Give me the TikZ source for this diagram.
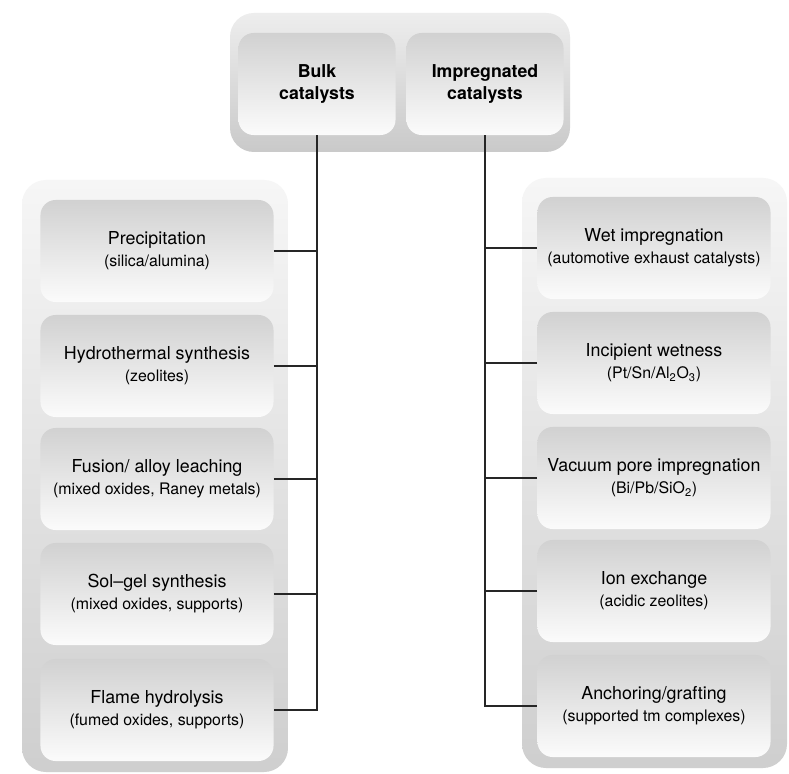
\documentclass[tikz,border=0pt]{standalone}
\usepackage{fontspec}
\setmainfont{TeX Gyre Heros}
\newcommand{\methodnote}[1]{{\fontsize{11.3}{15.6}\selectfont #1}}
\begin{document}
\begin{tikzpicture}[x=0.025cm,y=-0.025cm,
	panel/.style={rounded corners=0.6cm, top color=gray!7, bottom color=gray!38},
	toppanel/.style={rounded corners=0.6cm, top color=gray!14, bottom color=gray!42},
	method/.style={rounded corners=0.38cm, top color=gray!36, bottom color=gray!3,
		minimum width=5.825cm, minimum height=2.55cm, inner sep=0pt, align=center,
		font=\fontsize{12.7}{15.6}\selectfont},
	family/.style={method, minimum width=3.925cm, font=\fontsize{12.6}{15.6}\selectfont\bfseries},
	conn/.style={line width=1.7pt, black!85}]

		% page
		\fill[white] (0,0) rectangle (789,774);
		\useasboundingbox (0,0) rectangle (789,774);

		% background panels
		\shade[toppanel] (230,13) rectangle (570,152);
		\shade[panel] (22,180) rectangle (288,772);
		\shade[panel] (522,178) rectangle (787,768);

		% the two families
		\node[family] (bulk) at (317,84) {Bulk\\catalysts};
		\node[family] (impr) at (485,84) {Impregnated\\catalysts};

		% bulk methods
		\node[method] (prec) at (157,251) {Precipitation\\\methodnote{(silica/alumina)}};
		\node[method] (hydro) at (157,366) {Hydrothermal synthesis\\\methodnote{(zeolites)}};
		\node[method] (fusion) at (157,479) {Fusion/ alloy leaching\\\methodnote{(mixed oxides, Raney metals)}};
		\node[method] (solgel) at (157,594) {Sol--gel synthesis\\\methodnote{(mixed oxides, supports)}};
		\node[method] (flame) at (157,710) {Flame hydrolysis\\\methodnote{(fumed oxides, supports)}};

		% impregnation methods
		\node[method] (wet) at (654,248) {Wet impregnation\\\methodnote{(automotive exhaust catalysts)}};
		\node[method] (incip) at (654,363) {Incipient wetness\\\methodnote{(Pt/Sn/Al\textsubscript{2}O\textsubscript{3})}};
		\node[method] (vacuum) at (654,478) {Vacuum pore impregnation\\\methodnote{(Bi/Pb/SiO\textsubscript{2})}};
		\node[method] (ionex) at (654,591) {Ion exchange\\\methodnote{(acidic zeolites)}};
		\node[method] (anchor) at (654,706) {Anchoring/grafting\\\methodnote{(supported tm complexes)}};

		% left tree
		\draw[conn] (bulk.south) |- (flame.east);
		\draw[conn] (prec.east) -- (prec.east -| bulk.south);
		\draw[conn] (hydro.east) -- (hydro.east -| bulk.south);
		\draw[conn] (fusion.east) -- (fusion.east -| bulk.south);
		\draw[conn] (solgel.east) -- (solgel.east -| bulk.south);

		% right tree
		\draw[conn] (impr.south) |- (anchor.west);
		\draw[conn] (wet.west) -- (wet.west -| impr.south);
		\draw[conn] (incip.west) -- (incip.west -| impr.south);
		\draw[conn] (vacuum.west) -- (vacuum.west -| impr.south);
		\draw[conn] (ionex.west) -- (ionex.west -| impr.south);

	\end{tikzpicture}
\end{document}
